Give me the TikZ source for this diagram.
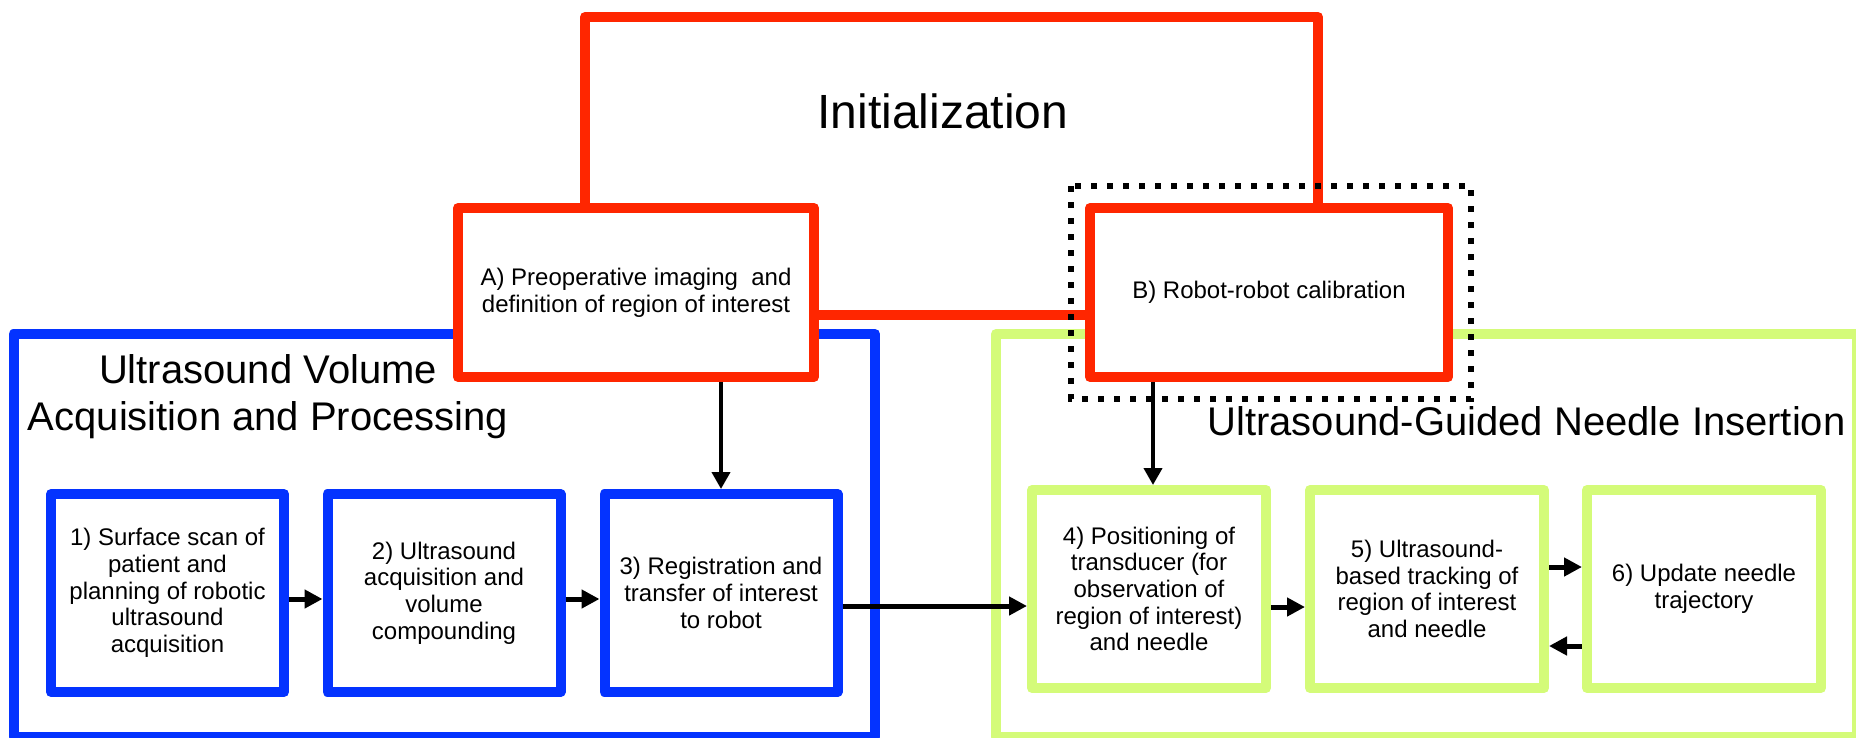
\documentclass[tikz,border=0pt]{standalone}
\usepackage{fontspec}
\setmainfont{Liberation Sans}
\usetikzlibrary{arrows.meta,calc}
\definecolor{initred}{HTML}{FF2600}
\definecolor{usblue}{HTML}{0433FF}
\definecolor{usgreen}{HTML}{D4FB79}
\begin{document}
\begin{tikzpicture}[x=1pt,y=-1pt,
  frame/.style={line width=10pt, line join=round},
  box/.style={frame, fill=white, rectangle, align=center, inner sep=0pt, font=\fontsize{24}{26.7}\selectfont},
  bluebox/.style={box, draw=usblue, minimum width=233pt, minimum height=198pt},
  greenbox/.style={box, draw=usgreen, minimum width=234pt, minimum height=198pt},
  redbox/.style={box, draw=initred, minimum height=169pt},
  header/.style={align=center, inner sep=0pt, font=\fontsize{40}{47}\selectfont},
  arr/.style={line width=5pt, -{Triangle[length=18pt,width=18pt]}},
  varr/.style={line width=4pt, -{Triangle[length=17pt,width=18pt]}},
  dotframe/.style={line width=6pt, dash pattern=on 6pt off 10pt},
]
\useasboundingbox (0,0) rectangle (1856,737);
% group frames
\draw[frame, draw=usblue] (13.5,334) rectangle (875,737);
\draw[frame, draw=usgreen] (996,334) rectangle (1857,737);
\draw[frame, draw=initred] (585,17) rectangle (1318,315);
% initialization boxes
\node[redbox, minimum width=356pt] (A) at (636,292.5) {A) Preoperative imaging\ \ and\\definition of region of interest};
\node[redbox, minimum width=358pt] (B) at (1269,292.5) {B) Robot-robot calibration};
% step boxes
\node[bluebox] (b1) at (167.5,593) {1) Surface scan of\\patient and\\planning of robotic\\ultrasound\\acquisition};
\node[bluebox] (b2) at (444,593) {2) Ultrasound\\acquisition and\\volume\\compounding};
\node[bluebox] (b3) at (721,593) {3) Registration and\\transfer of interest\\to robot};
\node[greenbox] (b4) at (1149,589) {4) Positioning of\\transducer (for\\observation of\\region of interest)\\and needle};
\node[greenbox] (b5) at (1427,589) {5) Ultrasound-\\based tracking of\\region of interest\\and needle};
\node[greenbox] (b6) at (1704,589) {6) Update needle\\trajectory};
% headers
\node[header, font=\fontsize{48}{56}\selectfont, anchor=base] (init) at (943,128) {Initialization};
\node[header, anchor=base] (usv1) at (268,383) {Ultrasound Volume};
\node[header, anchor=base] (usv2) at (268,430) {Acquisition and Processing};
\node[header, anchor=base] (usg) at (1526.5,435) {Ultrasound-Guided Needle Insertion};
% connectors
\draw[varr] (b3.north |- A.south) -- (b3.north);
\draw[varr] ([xshift=4pt]b4.north |- B.south) -- ([xshift=4pt]b4.north);
\draw[arr] ($(b1.east)+(0,6)$) -- ($(b2.west)+(0,6)$);
\draw[arr] ($(b2.east)+(0,6)$) -- ($(b3.west)+(0,6)$);
\draw[arr] ($(b3.east)+(0,13)$) -- ($(b4.west)+(0,17)$);
\draw[arr] ($(b4.east)+(0,18)$) -- ($(b5.west)+(0,18)$);
\draw[arr] ($(b5.east)+(0,-22)$) -- ($(b6.west)+(0,-22)$);
\draw[arr] ($(b6.west)+(0,57)$) -- ($(b5.east)+(0,57)$);
% dotted frame around calibration
\draw[dotframe] (1071,186) rectangle (1471,399);
\end{tikzpicture}
\end{document}
